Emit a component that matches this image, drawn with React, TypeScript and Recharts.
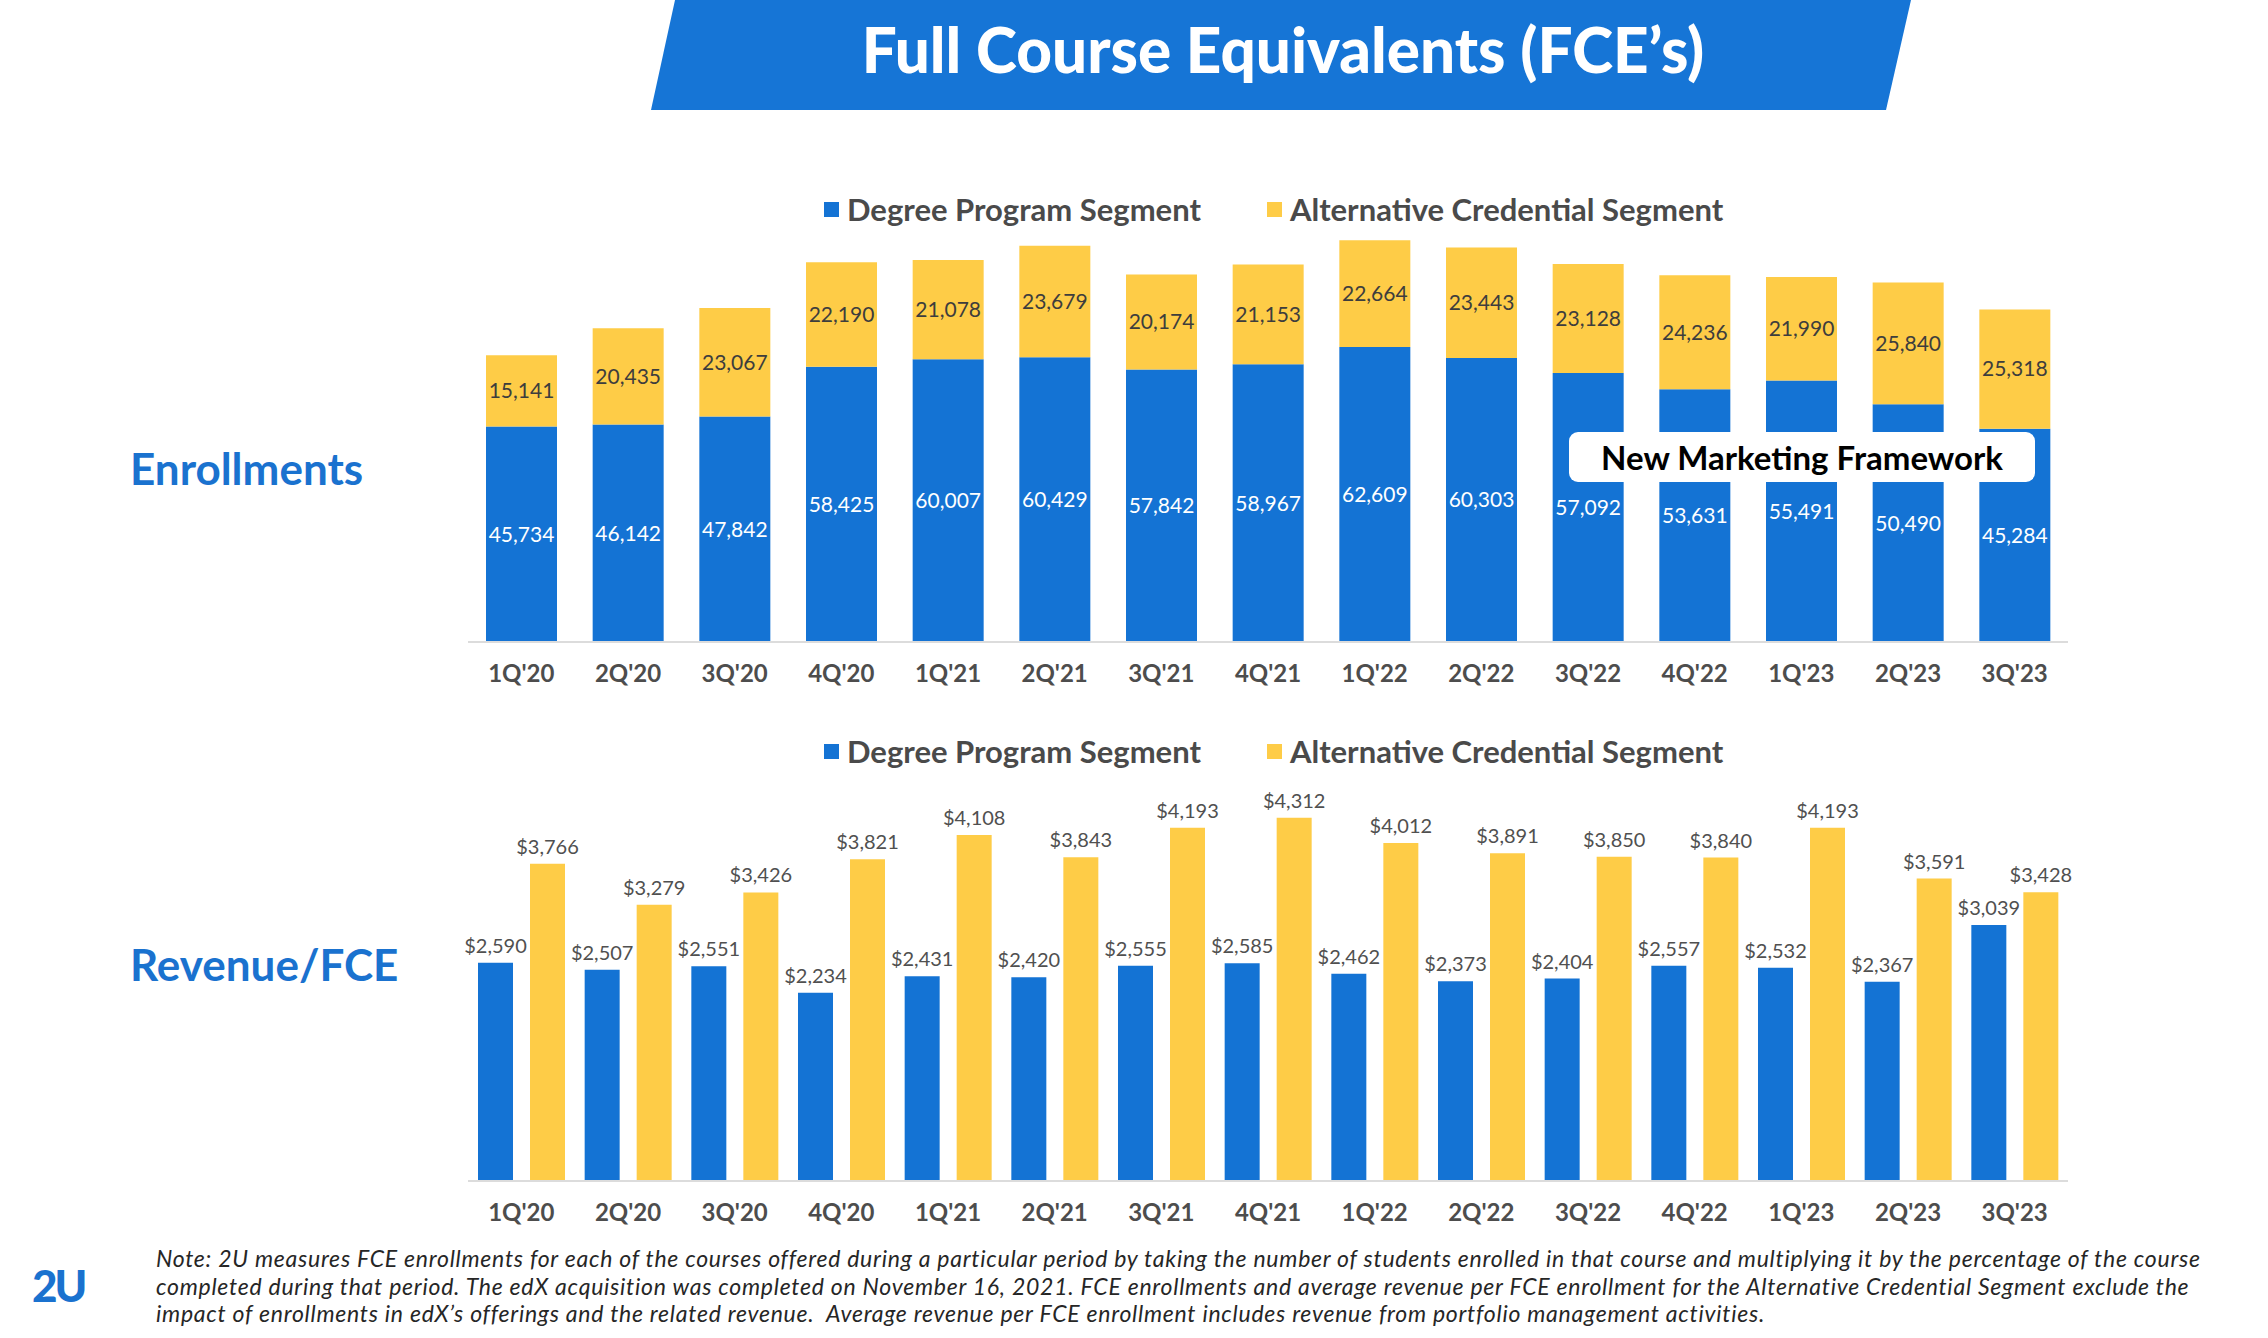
import React from 'react';
import { BarChart, Bar, XAxis, YAxis, LabelList } from 'recharts';

// Quarters shown on both charts
const quarters = [
  "1Q'20", "2Q'20", "3Q'20", "4Q'20", "1Q'21", "2Q'21", "3Q'21", "4Q'21",
  "1Q'22", "2Q'22", "3Q'22", "4Q'22", "1Q'23", "2Q'23", "3Q'23",
];

// FCE enrollments
const degreeEnrollments = [
  45734, 46142, 47842, 58425, 60007, 60429, 57842, 58967,
  62609, 60303, 57092, 53631, 55491, 50490, 45284,
];
const altEnrollments = [
  15141, 20435, 23067, 22190, 21078, 23679, 20174, 21153,
  22664, 23443, 23128, 24236, 21990, 25840, 25318,
];

// Revenue per FCE ($)
const degreeRevenue = [
  2590, 2507, 2551, 2234, 2431, 2420, 2555, 2585,
  2462, 2373, 2404, 2557, 2532, 2367, 3039,
];
const altRevenue = [
  3766, 3279, 3426, 3821, 4108, 3843, 4193, 4312,
  4012, 3891, 3850, 3840, 4193, 3591, 3428,
];

const seriesNames = ['Degree Program Segment', 'Alternative Credential Segment'];

const BLUE = '#1473d4';
const YELLOW = '#fecc47';
const FONT = 'Lato, "Open Sans", sans-serif';

const enrollData = quarters.map((q, i) => ({
  quarter: q,
  degree: degreeEnrollments[i],
  alt: altEnrollments[i],
}));

const revenueData = quarters.map((q, i) => ({
  quarter: q,
  degree: degreeRevenue[i],
  alt: altRevenue[i],
}));

const fmtNum = (v: any) => Number(v).toLocaleString('en-US');
const fmtUsd = (v: any) => '$' + Number(v).toLocaleString('en-US');

const tickStyle = { fill: '#4d4d4d', fontSize: 24, fontWeight: 700, fontFamily: FONT };

// Legend drawn as html so it does not push the plot area around
const LegendRow = ({ left, top }: { left: number; top: number }) => (
  <div
    style={{
      position: 'absolute',
      left,
      top,
      display: 'flex',
      alignItems: 'center',
      fontFamily: FONT,
      fontSize: 31,
      fontWeight: 700,
      color: '#4a4a4a',
      whiteSpace: 'nowrap',
    }}
  >
    {seriesNames.map((name, i) => (
      <div key={name} style={{ display: 'flex', alignItems: 'center', marginRight: i === 0 ? 66 : 0 }}>
        <div style={{ width: 15, height: 15, background: i === 0 ? BLUE : YELLOW, marginRight: 8 }} />
        <span>{name}</span>
      </div>
    ))}
  </div>
);

const sideLabel: React.CSSProperties = {
  position: 'absolute',
  left: 130,
  fontFamily: FONT,
  fontSize: 44,
  fontWeight: 700,
  color: '#1a72cf',
  whiteSpace: 'nowrap',
};

const noteLines = [
  'Note: 2U measures FCE enrollments for each of the courses offered during a particular period by taking the number of students enrolled in that course and multiplying it by the percentage of the course',
  'completed during that period. The edX acquisition was completed on November 16, 2021. FCE enrollments and average revenue per FCE enrollment for the Alternative Credential Segment exclude the',
  "impact of enrollments in edX\u2019s offerings and the related revenue.  Average revenue per FCE enrollment includes revenue from portfolio management activities.",
];

export default function App() {
  return (
    <div
      style={{
        position: 'absolute',
        left: 0,
        top: 0,
        width: 2268,
        height: 1338,
        background: '#ffffff',
        overflow: 'hidden',
        fontFamily: FONT,
      }}
    >
      {/* title banner */}
      <svg width={2268} height={112} style={{ position: 'absolute', left: 0, top: 0 }}>
        <polygon points="675,0 1911,0 1886,110 651,110" fill="#1675d6" />
      </svg>
      <div
        style={{
          position: 'absolute',
          left: 0,
          width: 2566,
          top: 12,
          textAlign: 'center',
          color: '#ffffff',
          fontSize: 62,
          fontWeight: 900,
          whiteSpace: 'nowrap',
        }}
      >
        Full Course Equivalents (FCE’s)
      </div>

      {/* enrollments */}
      <LegendRow left={824} top={190} />
      <div style={{ ...sideLabel, top: 442 }}>Enrollments</div>
      <div style={{ position: 'absolute', left: 0, top: 180 }}>
        <BarChart
          width={2268}
          height={540}
          data={enrollData}
          margin={{ top: 38, right: 200, left: 468, bottom: 28 }}
          barSize={71}
        >
          <XAxis
            dataKey="quarter"
            axisLine={{ stroke: '#dcdcdc', strokeWidth: 2 }}
            tickLine={false}
            tick={tickStyle}
            tickMargin={17}
            height={50}
            interval={0}
          />
          <YAxis hide domain={[0, 90000]} />
          <Bar dataKey="degree" stackId="a" fill={BLUE} isAnimationActive={false}>
            <LabelList
              dataKey="degree"
              position="center"
              formatter={fmtNum}
              style={{ fill: '#ffffff', fontSize: 21, fontFamily: FONT }}
            />
          </Bar>
          <Bar dataKey="alt" stackId="a" fill={YELLOW} isAnimationActive={false}>
            <LabelList
              dataKey="alt"
              position="center"
              formatter={fmtNum}
              style={{ fill: '#3d3d3d', fontSize: 21, fontFamily: FONT }}
            />
          </Bar>
        </BarChart>
      </div>

      <div
        style={{
          position: 'absolute',
          left: 1569,
          top: 432,
          width: 466,
          height: 50,
          background: '#ffffff',
          borderRadius: 9,
          display: 'flex',
          alignItems: 'center',
          justifyContent: 'center',
          fontSize: 33,
          fontWeight: 700,
          color: '#000000',
          whiteSpace: 'nowrap',
        }}
      >
        New Marketing Framework
      </div>

      {/* revenue / FCE */}
      <LegendRow left={824} top={732} />
      <div style={{ ...sideLabel, top: 938 }}>Revenue/FCE</div>
      <div style={{ position: 'absolute', left: 0, top: 760 }}>
        <BarChart
          width={2268}
          height={500}
          data={revenueData}
          margin={{ top: 42, right: 200, left: 468, bottom: 29 }}
          barSize={35}
          barGap={17}
        >
          <XAxis
            dataKey="quarter"
            axisLine={{ stroke: '#dcdcdc', strokeWidth: 2 }}
            tickLine={false}
            tick={tickStyle}
            tickMargin={17}
            height={50}
            interval={0}
          />
          <YAxis hide domain={[0, 4500]} />
          <Bar dataKey="degree" fill={BLUE} isAnimationActive={false}>
            <LabelList
              dataKey="degree"
              position="top"
              offset={10}
              formatter={fmtUsd}
              style={{ fill: '#505050', fontSize: 20, fontFamily: FONT }}
            />
          </Bar>
          <Bar dataKey="alt" fill={YELLOW} isAnimationActive={false}>
            <LabelList
              dataKey="alt"
              position="top"
              offset={10}
              formatter={fmtUsd}
              style={{ fill: '#505050', fontSize: 20, fontFamily: FONT }}
            />
          </Bar>
        </BarChart>
      </div>

      {/* footer */}
      <div
        style={{
          position: 'absolute',
          left: 32,
          top: 1263,
          fontSize: 44,
          fontWeight: 900,
          letterSpacing: -3,
          color: '#1a72cf',
          lineHeight: 1,
        }}
      >
        2U
      </div>
      <div
        style={{
          position: 'absolute',
          left: 156,
          top: 1245,
          fontSize: 23,
          letterSpacing: 0.75,
          fontStyle: 'italic',
          color: '#262626',
          lineHeight: '27.5px',
          whiteSpace: 'nowrap',
        }}
      >
        {noteLines.map((line) => (
          <div key={line} style={{ whiteSpace: 'pre' }}>{line}</div>
        ))}
      </div>
    </div>
  );
}
